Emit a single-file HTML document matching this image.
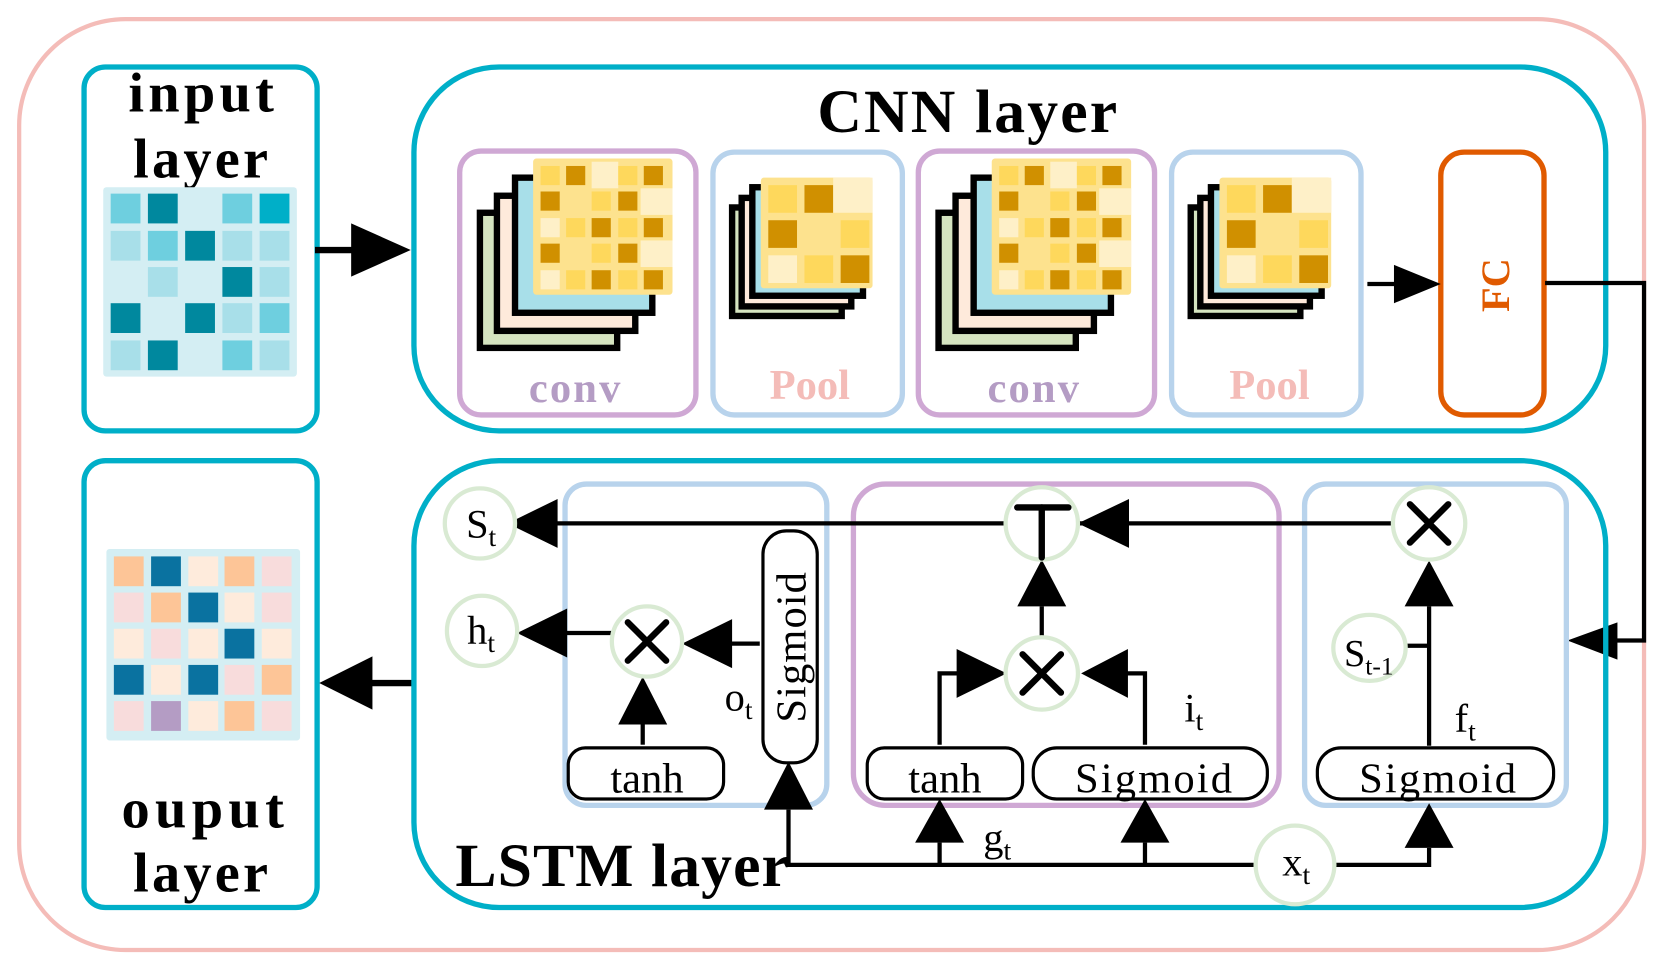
<!DOCTYPE html>
<html><head><meta charset="utf-8"><style>
html,body{margin:0;padding:0;background:#fff;}
svg{display:block;}
text{font-family:"Liberation Serif",serif;}
</style></head><body>
<svg width="1660" height="966" viewBox="0 0 1560 908" preserveAspectRatio="none" xmlns="http://www.w3.org/2000/svg">
<defs>
<g id="cgrid">
  <rect x="451" y="200" width="129" height="127" fill="#d5e4c0" stroke="#000" stroke-width="6"/>
  <rect x="467" y="184" width="130" height="127" fill="#feeadb" stroke="#000" stroke-width="6"/>
  <rect x="484" y="167" width="129" height="127" fill="#a8dfe9" stroke="#000" stroke-width="6"/>
  <rect x="501" y="149" width="131" height="128" rx="3" fill="#fde28e"/>
  <g>
  <rect x="508" y="156" width="18" height="18" fill="#fed85c"/><rect x="532" y="156" width="18" height="18" fill="#d09000"/><rect x="556" y="152" width="25" height="25" fill="#fef0c8"/><rect x="581" y="156" width="18" height="18" fill="#fed85c"/><rect x="605" y="156" width="18" height="18" fill="#d09000"/>
  <rect x="508" y="180" width="18" height="18" fill="#d09000"/><rect x="556" y="180" width="18" height="18" fill="#fed85c"/><rect x="581" y="180" width="18" height="18" fill="#d09000"/><rect x="602" y="177" width="30" height="25" fill="#fef0c8"/>
  <rect x="508" y="205" width="18" height="18" fill="#fef0c8"/><rect x="532" y="205" width="18" height="18" fill="#fed85c"/><rect x="556" y="205" width="18" height="18" fill="#d09000"/><rect x="581" y="205" width="18" height="18" fill="#fed85c"/><rect x="605" y="205" width="18" height="18" fill="#d09000"/>
  <rect x="508" y="229" width="18" height="18" fill="#d09000"/><rect x="556" y="229" width="18" height="18" fill="#fed85c"/><rect x="581" y="229" width="18" height="18" fill="#d09000"/><rect x="602" y="226" width="30" height="25" fill="#fef0c8"/>
  <rect x="508" y="254" width="18" height="18" fill="#fef0c8"/><rect x="532" y="254" width="18" height="18" fill="#fed85c"/><rect x="556" y="254" width="18" height="18" fill="#d09000"/><rect x="581" y="254" width="18" height="18" fill="#fed85c"/><rect x="605" y="254" width="18" height="18" fill="#d09000"/>
  </g>
</g>
<g id="pgrid">
  <rect x="688" y="195" width="103" height="102" fill="#d5e4c0" stroke="#000" stroke-width="6"/>
  <rect x="697" y="186" width="103" height="102" fill="#feeadb" stroke="#000" stroke-width="6"/>
  <rect x="707" y="176" width="104" height="102" fill="#a8dfe9" stroke="#000" stroke-width="6"/>
  <rect x="715" y="167" width="105" height="104" rx="3" fill="#fde28e"/>
  <rect x="722" y="174" width="27" height="26" fill="#fed85c"/><rect x="756" y="174" width="27" height="26" fill="#d09000"/><rect x="783" y="167" width="37" height="33" fill="#fef0c8"/>
  <rect x="722" y="207" width="27" height="26" fill="#d09000"/><rect x="790" y="207" width="27" height="26" fill="#fed85c"/>
  <rect x="722" y="240" width="27" height="26" fill="#fef0c8"/><rect x="756" y="240" width="27" height="26" fill="#fed85c"/><rect x="790" y="240" width="27" height="26" fill="#d09000"/>
</g>
</defs>

<rect x="18" y="18" width="1527" height="875" rx="100" fill="none" stroke="#f4bcb8" stroke-width="4"/>

<rect x="79" y="63" width="219" height="342" rx="20" fill="#fff" stroke="#00afc8" stroke-width="5"/>
<text x="191" y="105" font-size="53" font-weight="bold" text-anchor="middle" letter-spacing="4">input</text>
<text x="190" y="167" font-size="53" font-weight="bold" text-anchor="middle" letter-spacing="3">layer</text>
<rect x="97" y="176" width="182" height="178" rx="3" fill="#d4eef3"/>
<g>
<rect x="104" y="182" width="28" height="28" fill="#6ecfdf"/><rect x="139" y="182" width="28" height="28" fill="#00889e"/><rect x="209" y="182" width="28" height="28" fill="#6ecfdf"/><rect x="244" y="182" width="28" height="28" fill="#00afc8"/>
<rect x="104" y="217" width="28" height="28" fill="#a8dfe9"/><rect x="139" y="217" width="28" height="28" fill="#6ecfdf"/><rect x="174" y="217" width="28" height="28" fill="#00889e"/><rect x="209" y="217" width="28" height="28" fill="#a8dfe9"/><rect x="244" y="217" width="28" height="28" fill="#a8dfe9"/>
<rect x="139" y="251" width="28" height="28" fill="#a8dfe9"/><rect x="209" y="251" width="28" height="28" fill="#00889e"/><rect x="244" y="251" width="28" height="28" fill="#a8dfe9"/>
<rect x="104" y="285" width="28" height="28" fill="#00889e"/><rect x="174" y="285" width="28" height="28" fill="#00889e"/><rect x="209" y="285" width="28" height="28" fill="#a8dfe9"/><rect x="244" y="285" width="28" height="28" fill="#6ecfdf"/>
<rect x="104" y="320" width="28" height="28" fill="#a8dfe9"/><rect x="139" y="320" width="28" height="28" fill="#00889e"/><rect x="209" y="320" width="28" height="28" fill="#6ecfdf"/><rect x="244" y="320" width="28" height="28" fill="#a8dfe9"/>
</g>

<rect x="79" y="433" width="219" height="420" rx="20" fill="#fff" stroke="#00afc8" stroke-width="5"/>
<rect x="100" y="516" width="182" height="180" rx="3" fill="#d4eef3"/>
<g>
<rect x="107" y="523" width="28" height="28" fill="#fdc597"/><rect x="142" y="523" width="28" height="28" fill="#0a72a0"/><rect x="177" y="523" width="28" height="28" fill="#feebdc"/><rect x="211" y="523" width="28" height="28" fill="#fdc597"/><rect x="246" y="523" width="28" height="28" fill="#f8dcdc"/>
<rect x="107" y="557" width="28" height="28" fill="#f8dcdc"/><rect x="142" y="557" width="28" height="28" fill="#fdc597"/><rect x="177" y="557" width="28" height="28" fill="#0a72a0"/><rect x="211" y="557" width="28" height="28" fill="#feebdc"/><rect x="246" y="557" width="28" height="28" fill="#f8dcdc"/>
<rect x="107" y="591" width="28" height="28" fill="#feebdc"/><rect x="142" y="591" width="28" height="28" fill="#f8dcdc"/><rect x="177" y="591" width="28" height="28" fill="#feebdc"/><rect x="211" y="591" width="28" height="28" fill="#0a72a0"/><rect x="246" y="591" width="28" height="28" fill="#feebdc"/>
<rect x="107" y="625" width="28" height="28" fill="#0a72a0"/><rect x="142" y="625" width="28" height="28" fill="#feebdc"/><rect x="177" y="625" width="28" height="28" fill="#0a72a0"/><rect x="211" y="625" width="28" height="28" fill="#f8dcdc"/><rect x="246" y="625" width="28" height="28" fill="#fdc597"/>
<rect x="107" y="659" width="28" height="28" fill="#f8dcdc"/><rect x="142" y="659" width="28" height="28" fill="#b49cc4"/><rect x="177" y="659" width="28" height="28" fill="#feebdc"/><rect x="211" y="659" width="28" height="28" fill="#fdc597"/><rect x="246" y="659" width="28" height="28" fill="#f8dcdc"/>
</g>
<text x="193" y="778" font-size="53" font-weight="bold" text-anchor="middle" letter-spacing="5">ouput</text>
<text x="190" y="838" font-size="53" font-weight="bold" text-anchor="middle" letter-spacing="3">layer</text>

<rect x="389" y="63" width="1120" height="342" rx="80" fill="none" stroke="#00afc8" stroke-width="5"/>
<text x="910" y="124" font-size="58" font-weight="bold" text-anchor="middle" letter-spacing="2">CNN layer</text>
<rect x="432" y="142" width="222" height="248" rx="20" fill="#fff" stroke="#cfa8d4" stroke-width="5"/>
<rect x="670" y="143" width="178" height="247" rx="20" fill="#fff" stroke="#b8d3ec" stroke-width="5"/>
<rect x="863" y="142" width="222" height="248" rx="20" fill="#fff" stroke="#cfa8d4" stroke-width="5"/>
<rect x="1101" y="143" width="178" height="247" rx="20" fill="#fff" stroke="#b8d3ec" stroke-width="5"/>
<rect x="1354" y="143" width="97" height="247" rx="22" fill="#fff" stroke="#e05a00" stroke-width="5"/>
<use href="#cgrid"/>
<use href="#cgrid" transform="translate(431,0)"/>
<use href="#pgrid"/>
<use href="#pgrid" transform="translate(431,0)"/>
<text x="541" y="378" font-size="40" font-weight="bold" fill="#b49cc4" text-anchor="middle" letter-spacing="2">conv</text>
<text x="972" y="378" font-size="40" font-weight="bold" fill="#b49cc4" text-anchor="middle" letter-spacing="2">conv</text>
<text x="761" y="375" font-size="40" font-weight="bold" fill="#f4bcb8" text-anchor="middle">Pool</text>
<text x="1193" y="375" font-size="40" font-weight="bold" fill="#f4bcb8" text-anchor="middle">Pool</text>
<text transform="translate(1418,268) rotate(-90)" font-size="38" font-weight="bold" fill="#e05a00" text-anchor="middle">FC</text>

<line x1="296" y1="235" x2="332" y2="235" stroke="#000" stroke-width="6"/>
<polygon points="330,210 386,235 330,260" fill="#000"/>
<line x1="1285" y1="267" x2="1312" y2="267" stroke="#000" stroke-width="4"/>
<polygon points="1310,249 1354,267 1310,285" fill="#000"/>
<polyline points="1452,266 1545,266 1545,602 1518,602" fill="none" stroke="#000" stroke-width="4"/>
<polygon points="1520,585 1473,602 1520,620" fill="#000"/>
<line x1="390" y1="642" x2="348" y2="642" stroke="#000" stroke-width="6"/>
<polygon points="350,617 300,642 350,667" fill="#000"/>

<rect x="389" y="433" width="1120" height="420" rx="80" fill="none" stroke="#00afc8" stroke-width="5"/>
<rect x="531" y="455" width="246" height="302" rx="20" fill="none" stroke="#b8d3ec" stroke-width="5"/>
<rect x="802" y="455" width="400" height="302" rx="30" fill="none" stroke="#cfa8d4" stroke-width="5"/>
<rect x="1226" y="455" width="246" height="302" rx="20" fill="none" stroke="#b8d3ec" stroke-width="5"/>

<g stroke="#000" stroke-width="4" fill="none">
<line x1="490" y1="492" x2="945" y2="492"/>
<line x1="1012" y1="492" x2="1312" y2="492"/>
<line x1="575" y1="595" x2="530" y2="595"/>
<line x1="714" y1="605" x2="685" y2="605"/>
<line x1="604" y1="681" x2="604" y2="700"/>
<polyline points="741,761 741,813 1178,813"/>
<polyline points="1253,813 1343,813 1343,797"/>
<line x1="1343" y1="701" x2="1343" y2="570"/>
<line x1="1318" y1="607" x2="1343" y2="607"/>
<polyline points="883,700 883,633 901,633"/>
<polyline points="1076,700 1076,633 1058,633"/>
<line x1="883" y1="792" x2="883" y2="813"/>
<line x1="1076" y1="792" x2="1076" y2="813"/>
<line x1="979" y1="570" x2="979" y2="600"/>
</g>
<g fill="#000">
<polygon points="524,469 477,492 524,515"/>
<polygon points="1061,469 1013,492 1061,515"/>
<polygon points="533,572 486,595 533,618"/>
<polygon points="688,582 641,605 688,628"/>
<polygon points="581,681 604,636 627,681"/>
<polygon points="718,761 741,716 764,761"/>
<polygon points="860,792 883,751 906,792"/>
<polygon points="1053,792 1076,751 1099,792"/>
<polygon points="1320,797 1343,755 1366,797"/>
<polygon points="1320,570 1343,527 1366,570"/>
<polygon points="956,570 979,526 1002,570"/>
<polygon points="899,610 946,633 899,656"/>
<polygon points="1060,610 1016,633 1060,656"/>
</g>

<g fill="#fff" stroke="#d9ead3" stroke-width="4">
<circle cx="451" cy="492" r="33"/>
<circle cx="453" cy="593" r="33"/>
<circle cx="608" cy="603" r="33"/>
<circle cx="979" cy="492" r="34"/>
<circle cx="979" cy="633" r="34"/>
<circle cx="1343" cy="492" r="34"/>
<ellipse cx="1287" cy="609" rx="34" ry="31"/>
<circle cx="1217" cy="813" r="37"/>
</g>
<g stroke="#000" stroke-width="6" stroke-linecap="round">
<line x1="590" y1="585" x2="626" y2="621"/><line x1="626" y1="585" x2="590" y2="621"/>
<line x1="961" y1="615" x2="997" y2="651"/><line x1="997" y1="615" x2="961" y2="651"/>
<line x1="1325" y1="474" x2="1361" y2="510"/><line x1="1361" y1="474" x2="1325" y2="510"/>
<line x1="956" y1="477" x2="1004" y2="477"/><line x1="979" y1="477" x2="979" y2="524"/>
</g>

<g fill="#fff" stroke="#000" stroke-width="3">
<rect x="534" y="703" width="146" height="48" rx="16"/>
<rect x="717" y="499" width="51" height="218" rx="22"/>
<rect x="815" y="703" width="146" height="48" rx="16"/>
<rect x="971" y="703" width="220" height="48" rx="22"/>
<rect x="1238" y="703" width="222" height="48" rx="22"/>
</g>
<g font-size="40" text-anchor="middle">
<text x="608" y="745">tanh</text>
<text x="888" y="745">tanh</text>
<text x="1085" y="745" letter-spacing="2">Sigmoid</text>
<text x="1352" y="745" letter-spacing="2">Sigmoid</text>
<text transform="translate(757,608) rotate(-90)" letter-spacing="1">Sigmoid</text>
</g>
<g font-size="38">
<text x="438" y="505">S<tspan font-size="26" dy="8">t</tspan></text>
<text x="439" y="605">h<tspan font-size="26" dy="8">t</tspan></text>
<text x="681" y="668">o<tspan font-size="26" dy="8">t</tspan></text>
<text x="924" y="800">g<tspan font-size="26" dy="8">t</tspan></text>
<text x="1113" y="678">i<tspan font-size="26" dy="8">t</tspan></text>
<text x="1367" y="688">f<tspan font-size="26" dy="8">t</tspan></text>
<text x="1263" y="626" font-size="36">S<tspan font-size="24" dy="8">t-1</tspan></text>
<text x="1205" y="823">x<tspan font-size="26" dy="8">t</tspan></text>
</g>
<text x="428" y="833" font-size="58" font-weight="bold" letter-spacing="1">LSTM layer</text>
</svg>
</body></html>
